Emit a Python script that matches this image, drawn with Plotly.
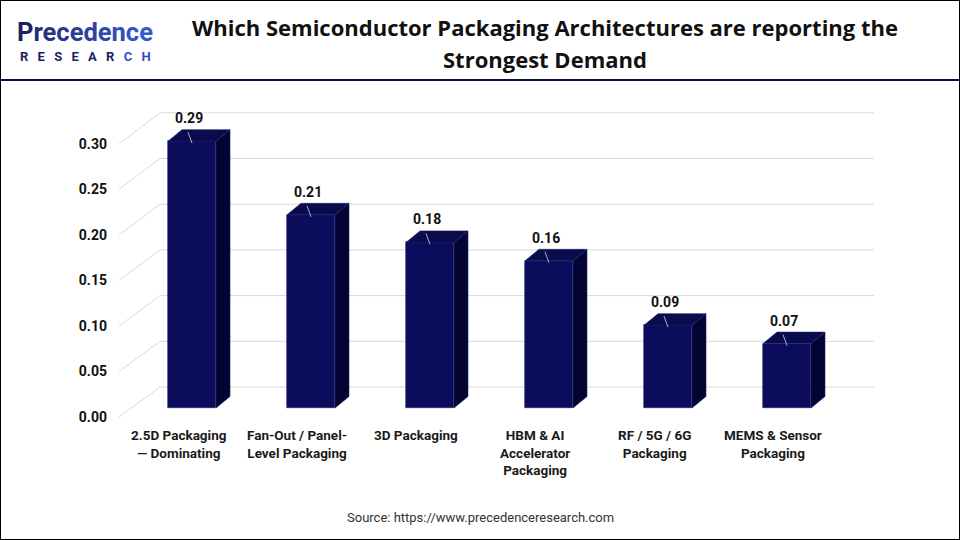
import plotly.graph_objects as go

# ---------------- data ----------------
categories = [
    "2.5D Packaging<br>— Dominating",
    "Fan-Out / Panel-<br>Level Packaging",
    "3D Packaging",
    "HBM & AI<br>Accelerator<br>Packaging",
    "RF / 5G / 6G<br>Packaging",
    "MEMS & Sensor<br>Packaging",
]
values = [0.29, 0.21, 0.18, 0.16, 0.09, 0.07]
value_labels = ["0.29", "0.21", "0.18", "0.16", "0.09", "0.07"]
y_ticks = [0.00, 0.05, 0.10, 0.15, 0.20, 0.25, 0.30]
y_tick_labels = ["0.00", "0.05", "0.10", "0.15", "0.20", "0.25", "0.30"]

title_lines = ["Which Semiconductor Packaging Architectures are reporting the", "Strongest Demand"]
source_text = "Source: https://www.precedenceresearch.com"
logo_word = "Precedence"
logo_sub = "RESEARCH"

# ---------------- geometry (reference pixels, 960 x 540 frame) ----------------
W, H = 960, 540
FIG_H = 545                # rendered height (viewport is slightly taller than 540)
PLOT_L, PLOT_R, PLOT_T, PLOT_B = 118, 880, 100, 420
X0, XS = 192, 119          # pixel of first category centre, pixels per category
Y0, K = 408, 920           # pixel of zero for bars, pixels per unit
BW = 48 / XS               # bar width (category units)
DX, DY = 14 / XS, 11.5 / K # 3D depth offset

FRONT = "#0b0c5c"
SIDE = "#040433"
TOP = "#0a0b4c"
EDGE = "#1c2170"
GRID = "#d9d9d9"
FONT = "Roboto"


def px_x(p):
    return (p - X0) / XS


def px_y(p):
    return (Y0 - p) / K


def fx(p):
    return p / W


def fy(p):
    return 1 - p / H


idx = list(range(len(values)))

fig = go.Figure()

# back wall gridlines + side wall diagonals (main subplot, drawn underneath)
gx, gy = [], []
for v in y_ticks:
    yb = px_y(387 - 914 * v)
    yf = px_y(417 - 910 * v)
    gx += [px_x(119), px_x(160), px_x(874), None]
    gy += [yf, yb, yb, None]
fig.add_trace(go.Scatter(x=gx, y=gy, mode="lines", line=dict(color=GRID, width=1),
                         hoverinfo="skip", showlegend=False))

# invisible trace carrying the front-axis labels
fig.add_trace(go.Scatter(x=[0], y=[0], yaxis="y2", mode="markers",
                         marker=dict(opacity=0), hoverinfo="skip", showlegend=False))

# side faces
for i, v in zip(idx, values):
    xr = i + BW / 2
    fig.add_trace(go.Scatter(
        x=[xr, xr, xr + DX, xr + DX, xr],
        y=[0, v, v + DY, DY, 0], yaxis="y3",
        fill="toself", fillcolor=SIDE, mode="lines",
        line=dict(color=EDGE, width=0.6), hoverinfo="skip", showlegend=False))
# top faces
for i, v in zip(idx, values):
    xl, xr = i - BW / 2, i + BW / 2
    fig.add_trace(go.Scatter(
        x=[xl, xr, xr + DX, xl + DX, xl],
        y=[v, v, v + DY, v + DY, v], yaxis="y3",
        fill="toself", fillcolor=TOP, mode="lines",
        line=dict(color=EDGE, width=0.6), hoverinfo="skip", showlegend=False))

# front faces
fig.add_trace(go.Bar(x=idx, y=values, width=BW, yaxis="y3",
                     marker=dict(color=FRONT, line=dict(color=EDGE, width=0.6)),
                     hoverinfo="skip", showlegend=False))

annotations = []
shapes = []

# data labels + leader lines
for i, v, t in zip(idx, values, value_labels):
    annotations.append(dict(x=i - 3 / XS, y=v, xref="x", yref="y", text="<b>%s</b>" % t,
                            showarrow=False, yshift=23,
                            font=dict(family=FONT, size=14, color="#111111"),
                            xanchor="center", yanchor="middle"))
    shapes.append(dict(type="line", xref="x", yref="y", layer="above",
                       x0=i - 4 / XS, y0=v + 9 / K, x1=i, y1=v - 2 / K,
                       line=dict(color="#a9adc4", width=1)))

# category labels
for i, c in zip(idx, categories):
    annotations.append(dict(x=i - 14 / XS, y=fy(425), xref="x", yref="paper", text="<b>%s</b>" % c,
                            showarrow=False, xanchor="center", yanchor="top", align="center",
                            font=dict(family=FONT, size=13.5, color="#1a1a1a")))

# title
for line, ypix in zip(title_lines, [27, 59]):
    annotations.append(dict(x=fx(545), y=fy(ypix), xref="paper", yref="paper", text="<b>%s</b>" % line,
                            showarrow=False, xanchor="center", yanchor="middle",
                            font=dict(family="Open Sans", size=22, color="#111111")))
# source
annotations.append(dict(x=fx(480), y=fy(517), xref="paper", yref="paper", text=source_text,
                        showarrow=False, xanchor="center", yanchor="middle",
                        font=dict(family=FONT, size=13, color="#333333")))

# logo: gradient-coloured word + spaced sub-line
grad = ["#1b1f5f", "#262d7c", "#283287", "#2a3790", "#2c3c99", "#2e42a3", "#3047ad",
        "#324db7", "#3453c1", "#3659cb"]
word = "".join("<span style='color:%s'>%s</span>" % (c, ch) for c, ch in zip(grad, logo_word))
annotations.append(dict(x=fx(16), y=fy(48), xref="paper", yref="paper", text="<b>%s</b>" % word,
                        showarrow=False, xanchor="left", yanchor="bottom", borderpad=0,
                        font=dict(family=FONT, size=25.5, color="#2c3c99")))
sub_cols = ["#1b1f5f"] * 6 + ["#2f4fc4"] * 2
sub = "\u2002\u2009".join("<span style='color:%s'>%s</span>" % (c, ch) for c, ch in zip(sub_cols, logo_sub))
annotations.append(dict(x=fx(19), y=fy(48), xref="paper", yref="paper", text="<b>%s</b>" % sub,
                        showarrow=False, xanchor="left", yanchor="top", borderpad=0,
                        font=dict(family=FONT, size=13, color="#1b1f5f")))

# header separator + border
shapes.append(dict(type="line", xref="paper", yref="paper", x0=0, x1=1, y0=fy(80), y1=fy(80),
                   line=dict(color="#0d0d3d", width=2), layer="above"))
shapes.append(dict(type="rect", xref="paper", yref="paper", x0=0, x1=1, y0=0, y1=1,
                   line=dict(color="#000000", width=2), layer="above"))

yrange = [px_y(PLOT_B), px_y(PLOT_T)]
fig.update_layout(
    width=W, height=FIG_H,
    margin=dict(l=0, r=0, t=0, b=0),
    paper_bgcolor="white", plot_bgcolor="white",
    xaxis=dict(domain=[fx(PLOT_L), fx(PLOT_R)], range=[px_x(PLOT_L), px_x(PLOT_R)],
               visible=False, fixedrange=True),
    yaxis=dict(domain=[fy(PLOT_B), fy(PLOT_T)], range=yrange,
               visible=False, fixedrange=True),
    yaxis2=dict(overlaying="y", side="left", anchor="x",
                range=[(417 - PLOT_B) / 910, (417 - PLOT_T) / 910],
                tickvals=y_ticks, ticktext=["<b>%s</b>" % t for t in y_tick_labels],
                showgrid=False, zeroline=False, showline=False, ticks="",
                ticklabelstandoff=10,
                tickfont=dict(family=FONT, size=14, color="#111111"), fixedrange=True),
    yaxis3=dict(overlaying="y", anchor="x", range=yrange, visible=False, fixedrange=True),
    annotations=annotations,
    shapes=shapes,
    showlegend=False,
    bargap=0,
)

post = ("var s=document.createElement('style');"
        "s.innerHTML='html,body{margin:0;padding:0;overflow:hidden;}';"
        "document.head.appendChild(s);")
fig.write_html("out.html", post_script=post, config={"displayModeBar": False})
